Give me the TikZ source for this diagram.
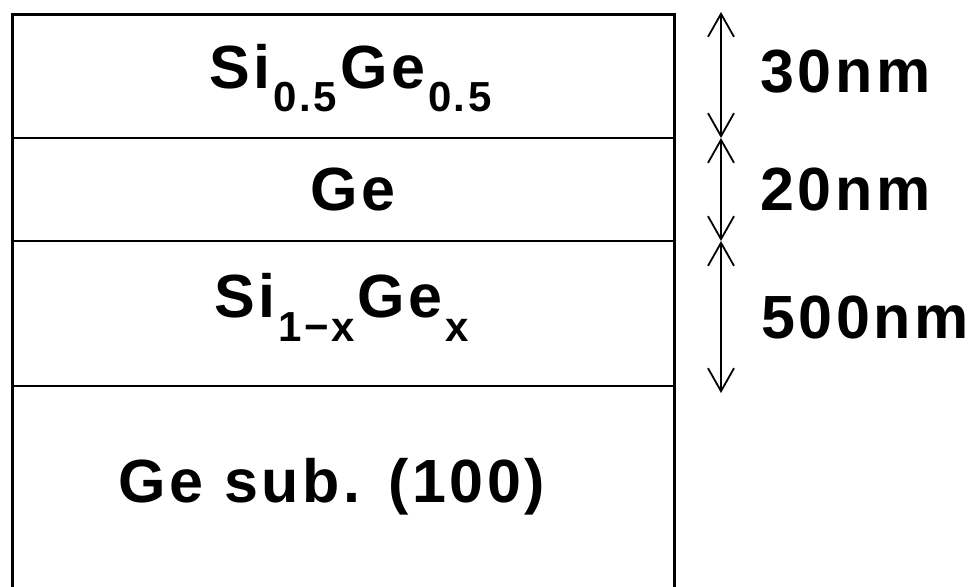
\documentclass[tikz,border=0pt]{standalone}
\usepackage{fontspec}
\setmainfont{Liberation Sans}[LetterSpace=6]
\usetikzlibrary{arrows.meta}
\newcommand{\lsub}[1]{\raisebox{-24pt}{\fontsize{42}{44}\selectfont\hspace{3pt}#1\hspace{3pt}}}
\begin{document}
\begin{tikzpicture}[x=1pt,y=-1pt,
  layer/.style={line width=2.2pt},
  edge/.style={line width=3pt},
  dim/.style={line width=1.8pt,{Straight Barb[length=23pt,width=26pt,line width=1.8pt]}-{Straight Barb[length=23pt,width=26pt,line width=1.8pt]}},
  lbl/.style={anchor=base,inner sep=0pt,font=\fontsize{61}{72}\selectfont\bfseries},
  rlbl/.style={anchor=base west,inner sep=0pt,font=\fontsize{61}{72}\selectfont\bfseries}]
\useasboundingbox (0,0) rectangle (976,586);
% stack outline
\coordinate (tl) at (12,15);
\coordinate (tr) at (674,15);
\coordinate (bl) at (12,600);
\coordinate (br) at (674,600);
\draw[edge] (bl) -- (tl) -- (tr) -- (br);
\coordinate (l1) at (12,138); \coordinate (r1) at (674,138);
\coordinate (l2) at (12,241); \coordinate (r2) at (674,241);
\coordinate (l3) at (12,386); \coordinate (r3) at (674,386);
\draw[layer] (l1) -- (r1);
\draw[layer] (l2) -- (r2);
\draw[layer] (l3) -- (r3);
% layer labels
\node[lbl] (sige) at (352,88) {Si\lsub{0.5}Ge\lsub{0.5}};
\node[lbl] (ge) at (353,210) {Ge};
\node[lbl] (sigex) at (343,317) {Si\lsub{1\char"2212 x}Ge\lsub{x}};
\node[lbl] (sub) at (332,502) {Ge sub. (100)};
% dimension arrows
\coordinate (d0) at (721,12);
\coordinate (d1) at (721,138);
\coordinate (d2) at (721,241);
\coordinate (d3) at (721,393);
\draw[dim] (d0) -- (d1);
\draw[dim] (d1) -- (d2);
\draw[dim] (d2) -- (d3);
\node[rlbl] (t30) at (760,92) {30nm};
\node[rlbl] (t20) at (760,210) {20nm};
\node[rlbl] (t500) at (761,338) {500nm};
\end{tikzpicture}
\end{document}
